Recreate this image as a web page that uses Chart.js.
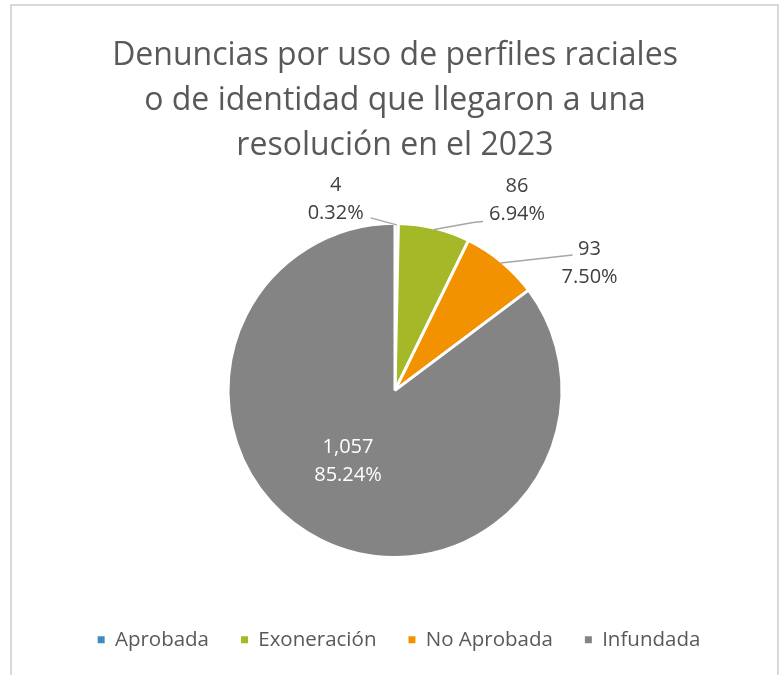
<!DOCTYPE html>
<html lang="es">
<head>
  <meta charset="UTF-8">
  <title>Denuncias por uso de perfiles raciales</title>
  <script src="https://cdn.jsdelivr.net/npm/chart.js"></script>
  <style>
    html, body {
      margin: 0;
      padding: 0;
      background: #fff;
      overflow: hidden;
    }
    .marco {
      position: absolute;
      left: 10px;
      top: 4px;
      width: 765px;
      height: 720px;
      border: 2px solid #d9d9d9;
      border-bottom: none;
      pointer-events: none;
    }
    .lienzo {
      position: absolute;
      left: 0;
      top: 0;
      width: 784px;
      height: 675px;
    }
  </style>
</head>
<body>
  <div class="lienzo"><canvas id="grafico"></canvas></div>
  <div class="marco"></div>

  <script>
    const categorias = ['Aprobada', 'Exoneración', 'No Aprobada', 'Infundada'];
    const denuncias = [4, 86, 93, 1057];
    const colores = ['#3c8cbe', '#a5b828', '#f39200', '#848484'];
    const titulo = [
      'Denuncias por uso de perfiles raciales',
      'o de identidad que llegaron a una',
      'resolución en el 2023'
    ];

    const fuente = "'Open Sans', sans-serif";
    const total = denuncias.reduce((a, b) => a + b, 0);

    // dónde va cada etiqueta respecto al borde del sector (punto medio del arco)
    // guia: puntos de la línea guía, relativos al centro de la etiqueta
    const ubicaciones = [
      { dx: -61, dy: -26, guia: [[35, 19]], color: '#404040' },
      { dx: 83, dy: -29, guia: [[-34, 21], [-44, 22]], color: '#404040' },
      { dx: 89, dy: 0, guia: [[-17, -8]], color: '#404040' },
      { dx: 27, dy: -77, guia: null, color: '#ffffff' }
    ];

    const etiquetas = {
      id: 'etiquetas',
      afterLayout(chart) {
        // la leyenda queda algo a la izquierda por el relleno final de la fila
        chart.legend.left += 4;
        chart.legend.right += 4;
      },
      afterDatasetsDraw(chart) {
        const ctx = chart.ctx;
        const meta = chart.getDatasetMeta(0);
        ctx.save();
        meta.data.forEach((arco, i) => {
          const p = arco.getProps(['x', 'y', 'startAngle', 'endAngle', 'outerRadius'], true);
          const medio = (p.startAngle + p.endAngle) / 2;
          const r = p.outerRadius - 1.5;
          const ex = p.x + Math.cos(medio) * r;
          const ey = p.y + Math.sin(medio) * r;
          const u = ubicaciones[i];
          const lx = ex + u.dx;
          const ly = ey + u.dy;

          if (u.guia) {
            ctx.strokeStyle = '#a6a6a6';
            ctx.lineWidth = 1.5;
            ctx.beginPath();
            u.guia.forEach(([gx, gy], k) => {
              if (k === 0) ctx.moveTo(lx + gx, ly + gy);
              else ctx.lineTo(lx + gx, ly + gy);
            });
            ctx.lineTo(ex, ey);
            ctx.stroke();
          }

          const valor = denuncias[i].toLocaleString('en-US');
          const pct = (denuncias[i] / total * 100).toFixed(2) + '%';
          ctx.fillStyle = u.color;
          ctx.font = '20px ' + fuente;
          ctx.textAlign = 'center';
          ctx.textBaseline = 'middle';
          ctx.fillText(valor, lx, ly - 14);
          ctx.fillText(pct, lx, ly + 14);
        });
        ctx.restore();
      }
    };

    const ctx = document.getElementById('grafico').getContext('2d');
    new Chart(ctx, {
      type: 'pie',
      data: {
        labels: categorias,
        datasets: [{
          data: denuncias,
          backgroundColor: colores,
          borderColor: '#ffffff',
          borderWidth: 3
        }]
      },
      options: {
        responsive: true,
        maintainAspectRatio: false,
        animation: false,
        radius: 167,
        layout: {
          padding: { left: 6, right: 0, top: 0, bottom: 15 }
        },
        plugins: {
          title: {
            display: true,
            text: titulo,
            color: '#595959',
            font: { family: fuente, size: 32, weight: 'normal', lineHeight: 1.406 },
            padding: { top: 33, bottom: 15.25 }
          },
          legend: {
            position: 'bottom',
            labels: {
              color: '#595959',
              font: { family: fuente, size: 20.5 },
              boxWidth: 7,
              boxHeight: 7,
              padding: 32,
              generateLabels(chart) {
                const items = Chart.overrides.pie.plugins.legend.labels.generateLabels(chart);
                items.forEach(it => { it.lineWidth = 0; it.strokeStyle = 'rgba(0,0,0,0)'; });
                return items;
              }
            }
          },
          tooltip: { enabled: false }
        }
      },
      plugins: [etiquetas]
    });
  </script>
</body>
</html>
